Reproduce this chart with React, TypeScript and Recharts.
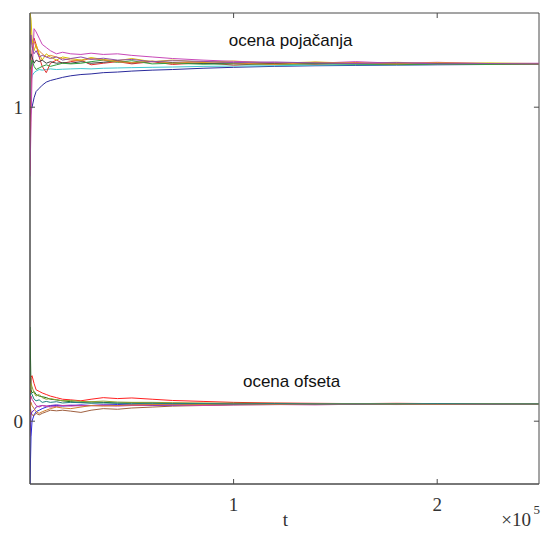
import React from 'react';
import { LineChart, Line, XAxis, YAxis, ReferenceDot, ReferenceArea, ReferenceLine } from 'recharts';

// sample times (t)
const T = [0, 500, 1000, 2000, 3000, 4500, 6000, 8000, 10000, 13000, 16000, 20000, 25000, 30000,
  36000, 43000, 50000, 60000, 70000, 85000, 100000, 120000, 140000, 160000, 180000, 200000, 225000, 250000];

// gain estimates (ocena pojačanja)
const gainBlue = [0.96, 0.99, 1.0, 1.03, 1.05, 1.06, 1.07, 1.08, 1.085, 1.09, 1.095, 1.1, 1.104, 1.106, 1.11, 1.112, 1.115, 1.118, 1.12, 1.124, 1.127, 1.13, 1.132, 1.133, 1.134, 1.135, 1.136, 1.136];
const gainCyan = [1.02, 1.08, 1.1, 1.11, 1.115, 1.12, 1.118, 1.12, 1.122, 1.12, 1.121, 1.122, 1.123, 1.122, 1.124, 1.125, 1.126, 1.127, 1.128, 1.13, 1.131, 1.132, 1.134, 1.135, 1.135, 1.136, 1.137, 1.137];
const gainRed = [0.8, 1.05, 1.18, 1.22, 1.2, 1.16, 1.13, 1.11, 1.14, 1.15, 1.14, 1.145, 1.15, 1.135, 1.14, 1.145, 1.138, 1.145, 1.136, 1.142, 1.134, 1.14, 1.137, 1.142, 1.136, 1.139, 1.137, 1.138];
const gainYellow = [1.3, 1.28, 1.22, 1.18, 1.2, 1.17, 1.15, 1.17, 1.16, 1.15, 1.16, 1.155, 1.15, 1.158, 1.152, 1.148, 1.155, 1.145, 1.15, 1.143, 1.147, 1.14, 1.144, 1.14, 1.143, 1.139, 1.141, 1.139];
const gainMagenta = [0.78, 0.95, 1.1, 1.25, 1.24, 1.22, 1.2, 1.19, 1.18, 1.17, 1.175, 1.17, 1.168, 1.172, 1.168, 1.17, 1.165, 1.16, 1.155, 1.15, 1.146, 1.142, 1.14, 1.145, 1.14, 1.143, 1.139, 1.14];
const gainBlack = [1.15, 1.17, 1.16, 1.14, 1.15, 1.145, 1.15, 1.14, 1.145, 1.14, 1.142, 1.14, 1.145, 1.14, 1.143, 1.148, 1.141, 1.146, 1.142, 1.139, 1.14, 1.138, 1.14, 1.139, 1.138, 1.139, 1.138, 1.138];
const gainGreen = [1.12, 1.13, 1.15, 1.13, 1.12, 1.125, 1.13, 1.135, 1.13, 1.135, 1.14, 1.138, 1.14, 1.145, 1.15, 1.143, 1.148, 1.138, 1.14, 1.137, 1.138, 1.136, 1.138, 1.137, 1.136, 1.137, 1.136, 1.137];
const gainOrange = [1.25, 1.22, 1.2, 1.21, 1.19, 1.18, 1.17, 1.16, 1.165, 1.16, 1.155, 1.15, 1.148, 1.155, 1.15, 1.145, 1.142, 1.147, 1.14, 1.145, 1.141, 1.136, 1.143, 1.14, 1.138, 1.142, 1.139, 1.138];
const gainPurple = [1.2, 1.23, 1.19, 1.17, 1.18, 1.16, 1.165, 1.16, 1.155, 1.16, 1.15, 1.155, 1.16, 1.152, 1.156, 1.15, 1.152, 1.145, 1.148, 1.146, 1.142, 1.144, 1.141, 1.139, 1.142, 1.138, 1.139, 1.138];

// offset estimates (ocena ofseta)
const offRed = [0.02, 0.14, 0.145, 0.12, 0.1, 0.095, 0.09, 0.085, 0.08, 0.075, 0.07, 0.068, 0.065, 0.07, 0.075, 0.072, 0.074, 0.07, 0.066, 0.063, 0.06, 0.058, 0.057, 0.056, 0.057, 0.056, 0.056, 0.055];
const offBlue = [-0.2, -0.05, 0.0, 0.02, 0.03, 0.035, 0.04, 0.045, 0.048, 0.05, 0.048, 0.05, 0.052, 0.05, 0.051, 0.053, 0.052, 0.05, 0.051, 0.052, 0.053, 0.053, 0.054, 0.054, 0.055, 0.054, 0.055, 0.055];
const offGreen = [0.3, 0.1, 0.09, 0.095, 0.085, 0.08, 0.078, 0.075, 0.07, 0.068, 0.065, 0.062, 0.06, 0.061, 0.06, 0.058, 0.059, 0.058, 0.057, 0.056, 0.057, 0.056, 0.055, 0.056, 0.055, 0.055, 0.056, 0.055];
const offBrown = [0.05, 0.03, 0.02, 0.018, 0.025, 0.02, 0.025, 0.03, 0.035, 0.033, 0.035, 0.032, 0.028, 0.035, 0.04, 0.038, 0.042, 0.045, 0.048, 0.05, 0.052, 0.053, 0.054, 0.055, 0.054, 0.055, 0.055, 0.055];
const offPurple = [-0.05, 0.02, 0.03, 0.035, 0.045, 0.048, 0.05, 0.048, 0.05, 0.052, 0.05, 0.051, 0.049, 0.05, 0.052, 0.05, 0.051, 0.053, 0.052, 0.054, 0.053, 0.054, 0.055, 0.054, 0.055, 0.055, 0.054, 0.055];
const offMagenta = [0.06, 0.08, 0.07, 0.06, 0.05, 0.045, 0.05, 0.048, 0.045, 0.047, 0.05, 0.048, 0.05, 0.049, 0.05, 0.048, 0.05, 0.051, 0.052, 0.05, 0.052, 0.053, 0.052, 0.054, 0.053, 0.054, 0.054, 0.054];
const offOlive = [0.1, 0.12, 0.11, 0.09, 0.08, 0.085, 0.075, 0.07, 0.072, 0.068, 0.065, 0.066, 0.063, 0.062, 0.064, 0.061, 0.06, 0.06, 0.059, 0.058, 0.057, 0.057, 0.056, 0.056, 0.056, 0.055, 0.056, 0.055];
const offOrange = [0.04, 0.06, 0.05, 0.04, 0.03, 0.025, 0.03, 0.035, 0.04, 0.045, 0.042, 0.04, 0.045, 0.05, 0.048, 0.05, 0.052, 0.053, 0.054, 0.053, 0.055, 0.054, 0.055, 0.055, 0.054, 0.055, 0.055, 0.055];
const offTeal = [0.08, 0.09, 0.085, 0.07, 0.065, 0.068, 0.06, 0.063, 0.06, 0.062, 0.058, 0.06, 0.059, 0.057, 0.058, 0.057, 0.056, 0.057, 0.056, 0.056, 0.055, 0.056, 0.055, 0.055, 0.055, 0.056, 0.055, 0.055];

const X_TICKS = [100000, 200000];
const Y_TICKS = [0, 1];
const X_DOMAIN: [number, number] = [0, 250000];
const Y_DOMAIN: [number, number] = [-0.2, 1.3];

const SERIES = [
  { key: 'gainBlue', values: gainBlue, color: '#2a2a9c' },
  { key: 'gainCyan', values: gainCyan, color: '#40c8d0' },
  { key: 'gainRed', values: gainRed, color: '#e03030' },
  { key: 'gainYellow', values: gainYellow, color: '#d8c000' },
  { key: 'gainMagenta', values: gainMagenta, color: '#c848b8' },
  { key: 'gainBlack', values: gainBlack, color: '#404040' },
  { key: 'gainGreen', values: gainGreen, color: '#30a040' },
  { key: 'gainOrange', values: gainOrange, color: '#e08a30' },
  { key: 'gainPurple', values: gainPurple, color: '#9050a8' },
  { key: 'offRed', values: offRed, color: '#ff2020' },
  { key: 'offBlue', values: offBlue, color: '#2828e0' },
  { key: 'offGreen', values: offGreen, color: '#187018' },
  { key: 'offBrown', values: offBrown, color: '#a06040' },
  { key: 'offPurple', values: offPurple, color: '#7020c0' },
  { key: 'offMagenta', values: offMagenta, color: '#d040a0' },
  { key: 'offOlive', values: offOlive, color: '#90a030' },
  { key: 'offOrange', values: offOrange, color: '#d08030' },
  { key: 'offTeal', values: offTeal, color: '#208080' },
];

const data = T.map((t, i) => {
  const row: Record<string, number> = { t };
  SERIES.forEach((s) => { row[s.key] = s.values[i]; });
  return row;
});

const AXIS = '#4a4a4a';
const SERIF = '"Liberation Serif", "DejaVu Serif", serif';
const SANS = '"Liberation Sans", Arial, sans-serif';

const BottomTick = ({ x, y, payload }: any) => (
  <g>
    <line x1={x} x2={x} y1={y} y2={y - 5} stroke={AXIS} />
    <text x={x} y={y + 27} textAnchor="middle" fontFamily={SERIF} fontSize={19} fill="#333">
      {payload.value / 100000}
    </text>
  </g>
);

const LeftTick = ({ x, y, payload }: any) => (
  <g>
    <line x1={x} x2={x + 5} y1={y} y2={y} stroke={AXIS} />
    <text x={x - 7} y={y + 7} textAnchor="end" fontFamily={SERIF} fontSize={19} fill="#333">
      {payload.value}
    </text>
  </g>
);

const XLabel = ({ viewBox }: any) => {
  const { x, y, width } = viewBox;
  return (
    <g fontFamily={SERIF} fill="#333">
      <text x={x + width / 2 + 1} y={y + 42} textAnchor="middle" fontSize={19}>t</text>
      <text x={x + width - 8} y={y + 42} textAnchor="end" fontSize={19}>×10</text>
      <text x={x + width + 1} y={y + 30} textAnchor="end" fontSize={13}>5</text>
    </g>
  );
};

// short inward tick marks on the top and right edges of the box
const TOP_TICK_LEN = 0.016;
const RIGHT_TICK_LEN = 2500;

export default function App() {
  return (
    <div style={{ position: 'absolute', left: 0, top: 0, background: '#fff' }}>
      <LineChart width={546} height={544} data={data} margin={{ top: 13, right: 7, bottom: 0, left: 0 }}>
        <XAxis
          dataKey="t"
          type="number"
          domain={X_DOMAIN}
          ticks={X_TICKS}
          allowDataOverflow
          height={60}
          stroke={AXIS}
          tickLine={false}
          tickSize={0}
          tickMargin={0}
          tick={<BottomTick />}
          label={<XLabel />}
        />
        <YAxis
          type="number"
          domain={Y_DOMAIN}
          ticks={Y_TICKS}
          allowDataOverflow
          width={30}
          stroke={AXIS}
          tickLine={false}
          tickSize={0}
          tickMargin={0}
          tick={<LeftTick />}
        />
        {SERIES.map((s) => (
          <Line
            key={s.key}
            dataKey={s.key}
            stroke={s.color}
            strokeWidth={1}
            dot={false}
            type="linear"
            isAnimationActive={false}
          />
        ))}
        <ReferenceArea
          x1={X_DOMAIN[0]}
          x2={X_DOMAIN[1]}
          y1={Y_DOMAIN[0]}
          y2={Y_DOMAIN[1]}
          fill="none"
          stroke={AXIS}
          strokeWidth={1}
        />
        {X_TICKS.map((v) => (
          <ReferenceLine
            key={`tt-${v}`}
            segment={[{ x: v, y: Y_DOMAIN[1] }, { x: v, y: Y_DOMAIN[1] - TOP_TICK_LEN }]}
            stroke={AXIS}
          />
        ))}
        {Y_TICKS.map((v) => (
          <ReferenceLine
            key={`rt-${v}`}
            segment={[{ x: X_DOMAIN[1], y: v }, { x: X_DOMAIN[1] - RIGHT_TICK_LEN, y: v }]}
            stroke={AXIS}
          />
        ))}
        <ReferenceDot
          x={128000}
          y={1.213}
          r={0}
          label={{ value: 'ocena pojačanja', position: 'center', fontFamily: SANS, fontSize: 17, fill: '#111' }}
        />
        <ReferenceDot
          x={128500}
          y={0.128}
          r={0}
          label={{ value: 'ocena ofseta', position: 'center', fontFamily: SANS, fontSize: 17, fill: '#111' }}
        />
      </LineChart>
    </div>
  );
}
